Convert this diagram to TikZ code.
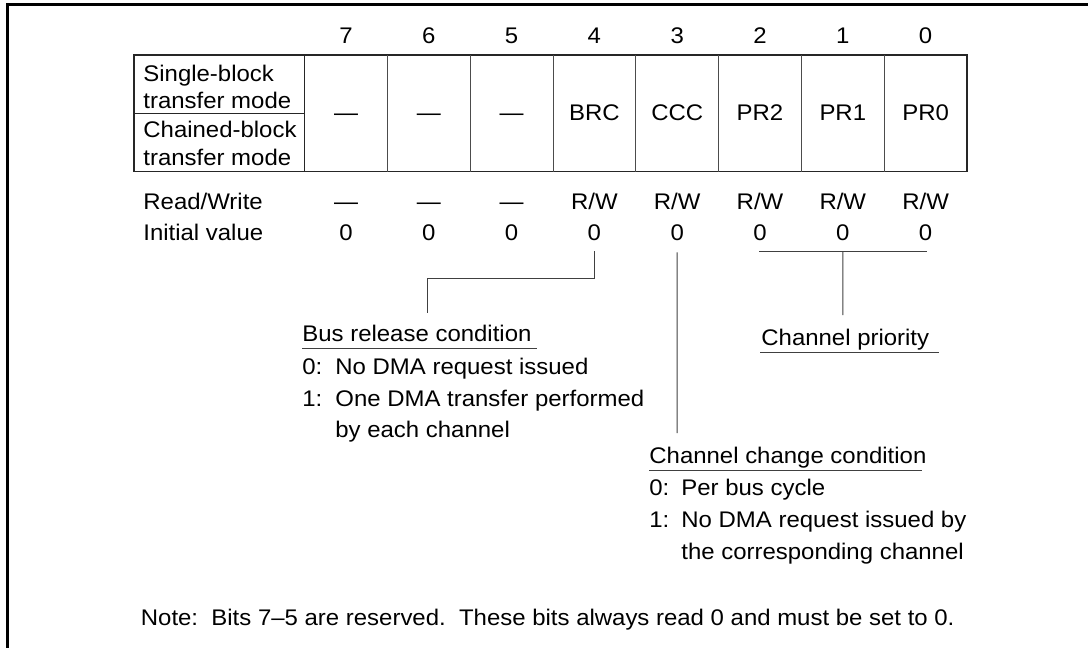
\documentclass[tikz,border=0pt]{standalone}
\usepackage{fontspec}
\setmainfont{Liberation Sans}[FakeStretch=1.06]
\usetikzlibrary{positioning}

\begin{document}
\begin{tikzpicture}[x=0.5pt,y=-0.5pt,
  every node/.style={font=\fontsize{11.3}{13}\selectfont,inner sep=0pt},
  txt/.style={anchor=base west},
  cell/.style={anchor=base},
  outer/.style={line width=0.6pt,black!85},
  inner/.style={line width=0.45pt,black!70},
  conn/.style={line width=0.5pt,black!75}]
  \useasboundingbox (0,0) rectangle (1088,648);
  % frame
  \draw[line width=1.5pt] (7.5,648) -- (7.5,4.7) -- (1088,4.7);
  % register table
  \draw[outer] (134,55) rectangle (967,171.7);
  \draw[outer] (304.6,55) -- (304.6,171.7);
  \draw[outer] (134,113.3) -- (304.6,113.3);
  \foreach \k in {1,...,7}
    \draw[inner] ({304.6+\k*82.8},55) -- ({304.6+\k*82.8},171.7);
  \node[txt] (mode1a) at (143,81.7) {Single-block};
  \node[txt] (mode1b) at (143,108.3) {transfer mode};
  \node[txt] (mode2a) at (143,137.3) {Chained-block};
  \node[txt] (mode2b) at (143,165) {transfer mode};
  \node[txt] (rwlbl) at (143,209) {Read/Write};
  \node[txt] (ivlbl) at (143,240.7) {Initial value};
  % bits 7..0
  \foreach \b/\f/\rw [count=\i from 0] in {7/---/---,6/---/---,5/---/---,4/BRC/{R/W},3/CCC/{R/W},2/PR2/{R/W},1/PR1/{R/W},0/PR0/{R/W}}{
    \node[cell] (bit\b) at ({346+\i*82.8},43) {\b};
    \node[cell] (fld\b) at ({346+\i*82.8},120.7) {\f};
    \node[cell] (rw\b) at ({346+\i*82.8},209) {\rw};
    \node[cell] (iv\b) at ({346+\i*82.8},240.7) {0};
  }
  % bus release condition
  \node[txt] (brchead) at (302,341.7) {Bus release condition};
  \node[txt] (brc0) at (302,374) {0:};
  \node[txt] (brc0t) at (335,374) {No DMA request issued};
  \node[txt] (brc1) at (302,406.7) {1:};
  \node[txt] (brc1t) at (335,406.7) {One DMA transfer performed};
  \node[txt] (brc1u) at (335,437.5) {by each channel};
  \draw[conn] ([yshift=-3.6pt]brchead.base west) -- ([yshift=-3.6pt,xshift=2.5pt]brchead.base east);
  % channel priority
  \node[txt] (prhead) at (761,345) {Channel priority};
  \draw[conn] ([yshift=-3.5pt,xshift=-0.5pt]prhead.base west) -- ([yshift=-3.5pt,xshift=4.5pt]prhead.base east);
  % channel change condition
  \node[txt] (ccchead) at (649,463.3) {Channel change condition};
  \node[txt] (ccc0) at (649,495.7) {0:};
  \node[txt] (ccc0t) at (681,495.7) {Per bus cycle};
  \node[txt] (ccc1) at (649,527.3) {1:};
  \node[txt] (ccc1t) at (681,527.3) {No DMA request issued by};
  \node[txt] (ccc1u) at (681,559.3) {the corresponding channel};
  \draw[conn] ([yshift=-3.8pt]ccchead.base west) -- ([yshift=-3.8pt,xshift=-2.5pt]ccchead.base east);
  % note
  \node[txt] (note) at (140.5,625) {Note:~~Bits 7--5 are reserved.~~These bits always read 0 and must be set to 0.};
  % leaders
  \coordinate (brcjog) at (427,278);
  \coordinate (brcfoot) at (427,313);
  \coordinate (cccfoot) at (677.2,433);
  \coordinate (prfoot) at (842.8,315);
  \draw[conn] ([yshift=-5pt]iv4.south) |- (brcjog) -- (brcfoot);
  \draw[conn] ([yshift=-5.5pt]iv3.south) -- (cccfoot);
  \draw[conn] ([yshift=-5pt,xshift=-0.5pt]iv2.south) -- ([yshift=-5pt,xshift=0.7pt]iv0.south);
  \draw[conn] ([yshift=-5pt]iv1.south) -- (prfoot);
\end{tikzpicture}
\end{document}
